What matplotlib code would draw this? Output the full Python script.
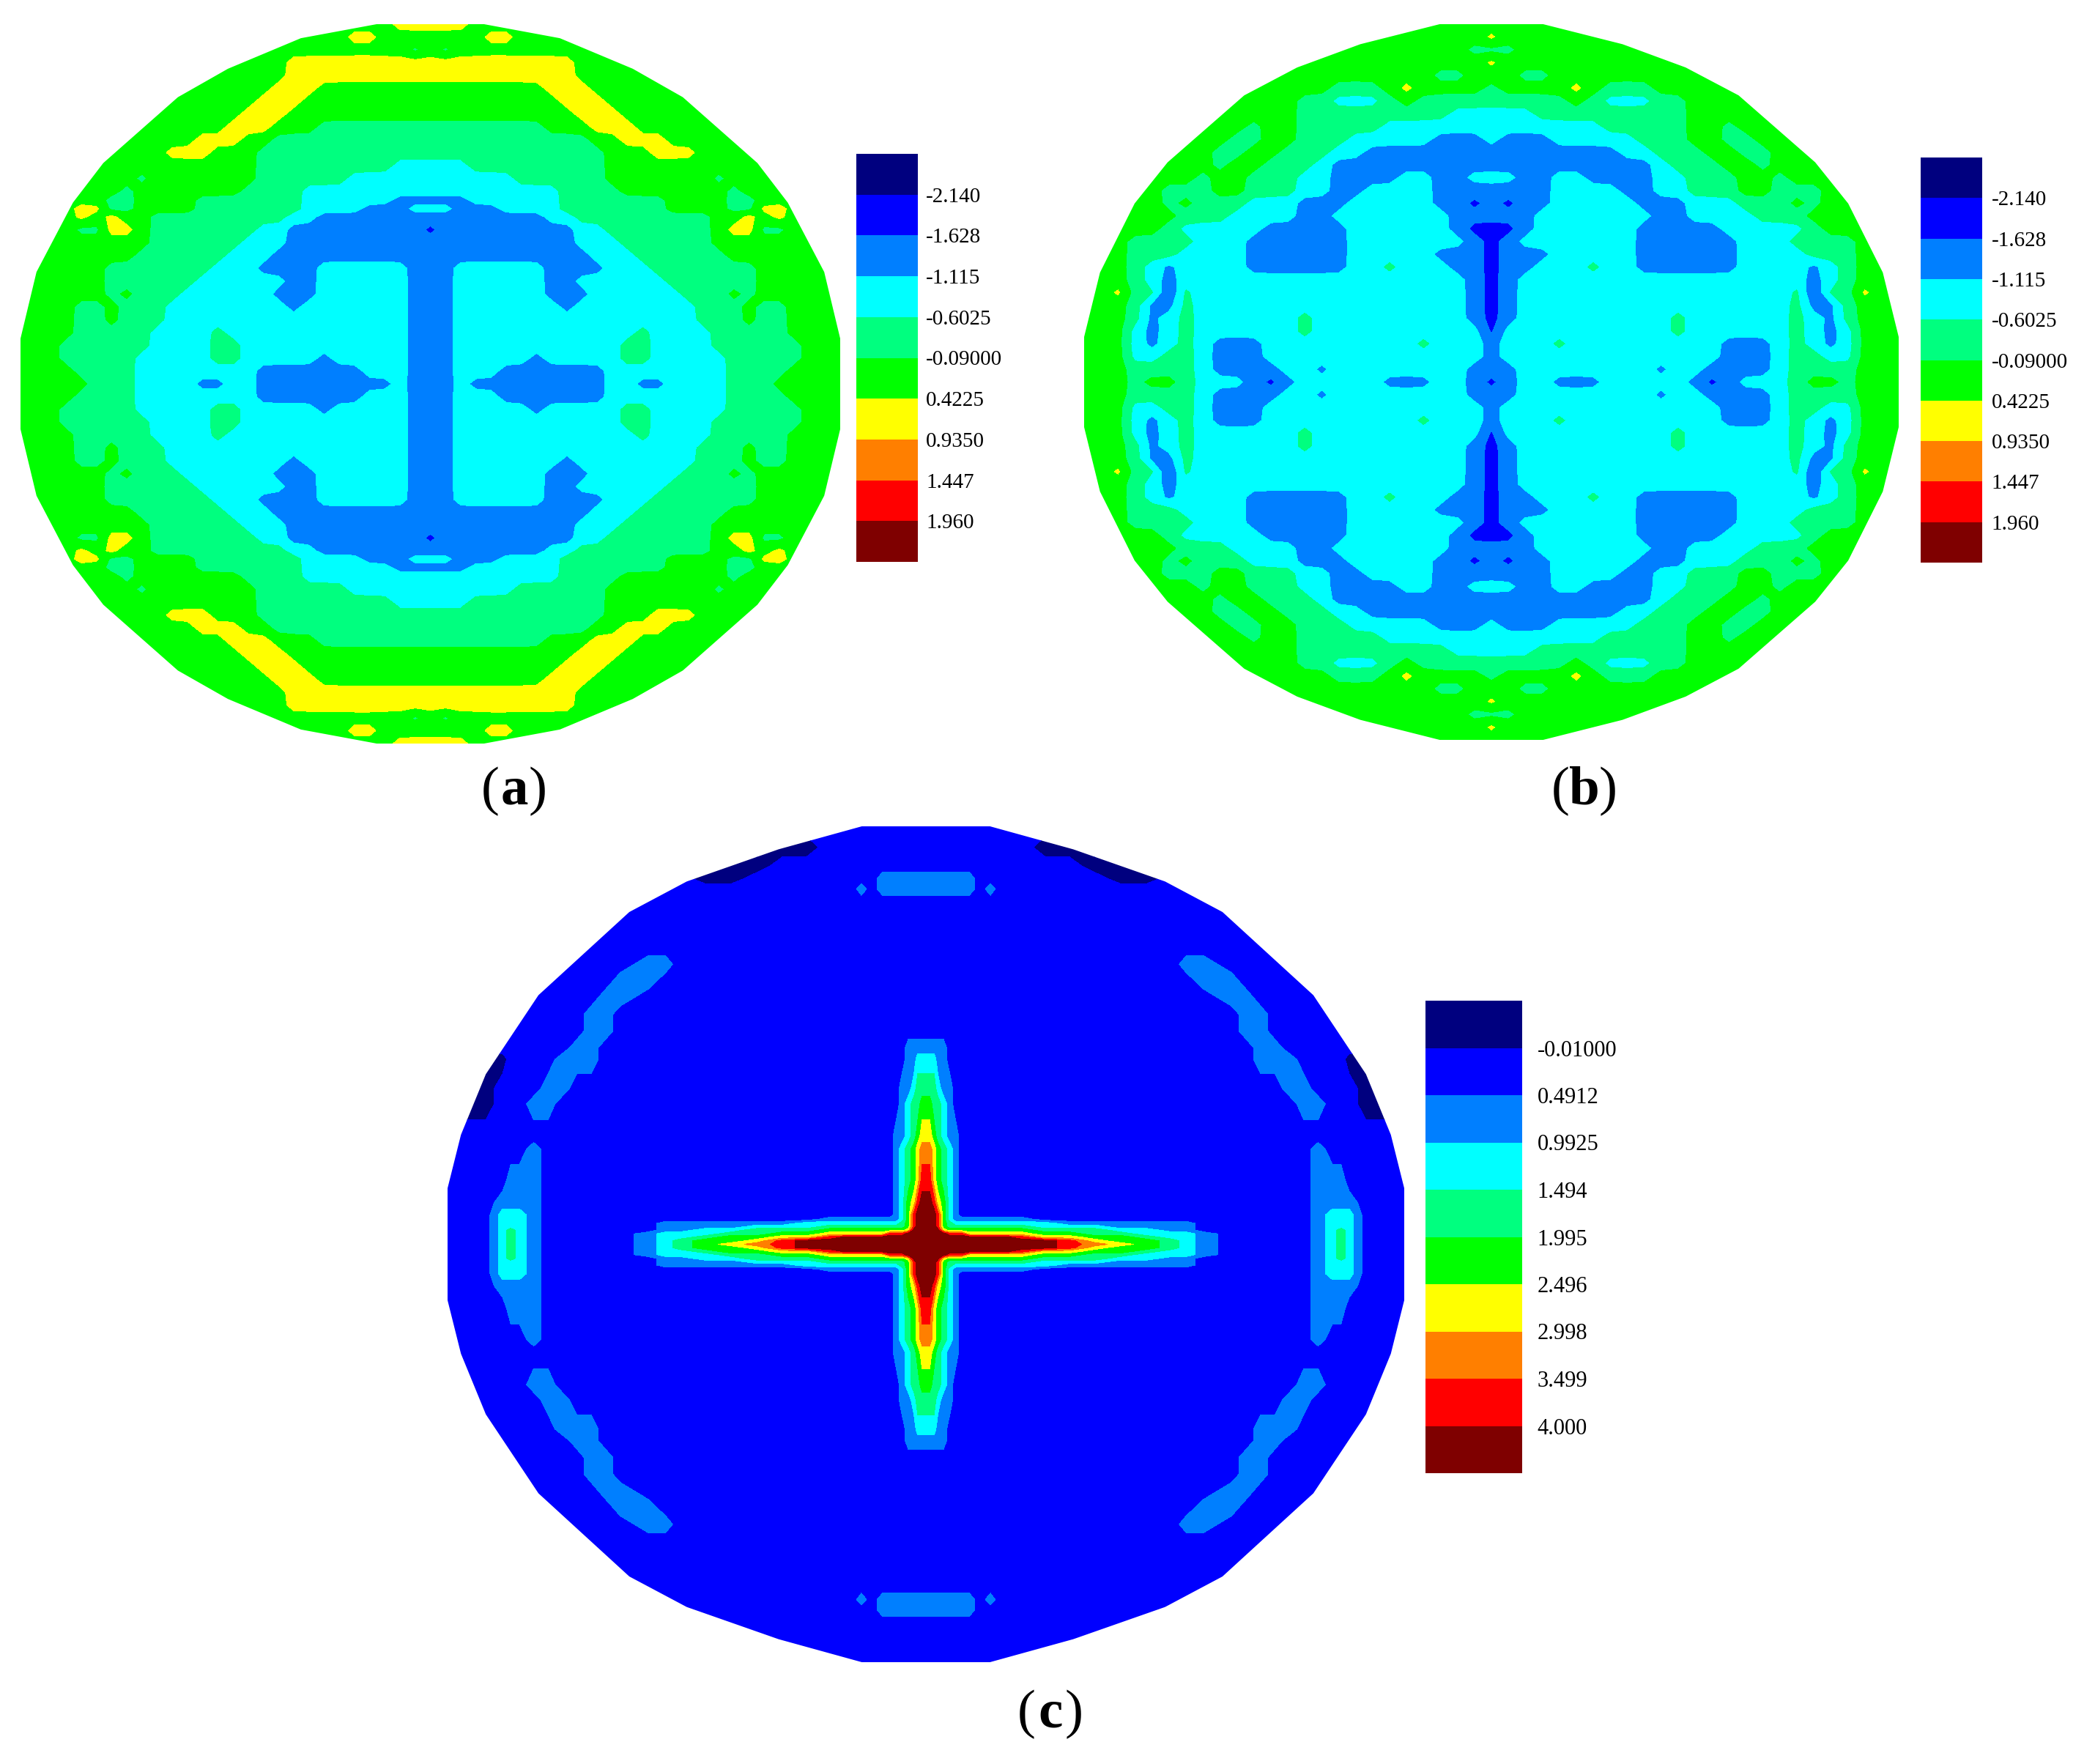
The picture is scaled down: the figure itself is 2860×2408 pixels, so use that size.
import matplotlib
matplotlib.use("Agg")
import matplotlib.pyplot as plt
from matplotlib.colors import ListedColormap
from matplotlib.patches import Polygon
import numpy as np

plt.rcParams["font.family"] = ["Liberation Serif", "DejaVu Serif"]

W, H = 2860, 2408
COLORS = ["#00007F", "#0000FF", "#007FFF", "#00FFFF", "#00FF7F",
          "#00FF00", "#FFFF00", "#FF7F00", "#FF0000", "#7F0000"]

# contour levels, same as the legend labels
LEVELS_AB = [-2.140, -1.628, -1.115, -0.6025, -0.09, 0.4225, 0.9350, 1.447, 1.960]
LABELS_AB = ["-2.140", "-1.628", "-1.115", "-0.6025", "-0.09000", "0.4225", "0.9350", "1.447", "1.960"]
LEVELS_C = [-0.01, 0.4912, 0.9925, 1.494, 1.995, 2.496, 2.998, 3.499, 4.000]
LABELS_C = ["-0.01000", "0.4912", "0.9925", "1.494", "1.995", "2.496", "2.998", "3.499", "4.000"]

# field value read for each colour band (one digit per grid node below)
BAND_VALUES_AB = [-2.4, -1.884, -1.372, -0.859, -0.346, 0.166, 0.679, 1.191, 1.704, 2.2]
BAND_VALUES_C = [-0.26, 0.24, 0.742, 1.243, 1.745, 2.246, 2.747, 3.249, 3.75, 4.25]

# upper right quadrant of each plate, rows go from the centre line to the top
ROWS_A = [
    "2232222222223322333344455555", "2233322222223333333344445555",
    "2233333233333443333344444555", "2233333333333443333444444555",
    "2233333333333343333444445555", "2233333333333333334445445555",
    "2233333332333333334445445555", "2233333322233333344454555555",
    "2233333322333333444444555555", "2233333322223334444444555555",
    "2222222222233344444455555555", "2222222222333444444555555555",
    "1222222222334444444566445555", "2222222233444444444556565555",
    "3322233334444444555544665555", "2223333334444444555544555555",
    "3333333334444555555545555555",
    "3333334444445555555455555555", "3334444444445555555555555555",
    "4444444444445556665555555555", "4444444444455666555555555555",
    "4444444455566655555555555555", "5555555555666555555555555555",
    "5555555556665555555555555555", "5555555566655555555555555555",
    "6666666666555555555555555555", "6666666666555555555555555555",
    "5455555555555555555555555555", "5555665555555555555555555555",
    "6665555555555555555555555555",
]
ROWS_B = [
    "1233222333332123334554555", "2233333333233222234444555",
    "2333333333333322234433555", "2333433333333322234323555",
    "1333333333343333334323555", "1233333333343333334324555",
    "1233333333333333334224555", "1233333333333333334144655",
    "1233333333333333333234555", "1223334332222223333234555",
    "1222333332222223333444555", "1233333332222223334444555",
    "1123333332222233333455555", "2223333333223333444555555",
    "2122333332223334445455555", "2222333322334445544455555",
    "3322332222334445545555555", "2222222222344455455555555",
    "2222222233444554455555555", "3222333334445544555555555",
    "3333333444445545555555555", "3334444444445555555555555",
    "4444454333445555555555555", "4555565444555555555555555",
    "5544555555555555555555555", "6555555555555555555555555",
    "4455555555555555555555555", "6555555555555555555555555",
    "5555555555555555555555555",
]
ROWS_C = [
    "9" * 14 + "87654321" + "111112343111",
    "9" * 14 + "86554321" + "111112343111",
    "9" * 12 + "8665543321" + "111112343111",
    "99999888666665544333" + "21" + "111112343111",
    "9999655555555444332211" + "111112343111",
    "9998544444444333222211" + "111112333111",
    "9998543333333322222211" + "111112333111",
    "9998532222222111111111" + "111112333111",
    "9998532" + "1" * 15 + "111112333111",
    "9986532" + "1" * 15 + "111112222111",
    "8865432" + "1" * 15 + "111112221111",
    "7765432" + "1" * 15 + "111112111111",
    "6654322" + "1" * 15 + "1" * 12,
    "554432" + "1" * 16 + "111122111001",
    "444322" + "1" * 16 + "111221111001",
    "33322" + "1" * 17 + "122211110011",
    "22222" + "1" * 17 + "122111111111",
    "1" * 22 + "221111111111",
    "1" * 22 + "221111111111",
    "1" * 21 + "22" + "1" * 11,
    "1" * 20 + "22" + "1" * 12,
    "1" * 19 + "22" + "1" * 13,
    "1" * 34, "1" * 34, "1" * 34, "1" * 34,
    "222222222" + "12" + "1" * 23,
    "222222222" + "1" * 7 + "00" + "1" * 16,
    "1" * 15 + "00" + "1" * 17,
    "1" * 13 + "00" + "1" * 19,
    "1" * 34,
]

# grid nodes, as a fraction of the half width / half height
X_A = np.linspace(0, 1, 28)
Y_A = np.r_[np.linspace(0, .4643, 14), .487, .511, np.linspace(.5357, 1, 14)]
X_B = np.linspace(0, 1, 25)
Y_B = np.linspace(0, 1, 29)
X_C = [0, .008, .017, .025, .037, .05, .062, .075, .091, .113, .135, .155, .2, .249, .299,
       .353, .407, .461, .515, .544, .581, .639, .67, .70, .73, .76, .79, .82, .85, .868,
       .885, .92, .96, 1.0]
Y_C = [0, .008, .017, .025, .034, .042, .05, .06, .07, .10, .154, .228, .259, .336, .373,
       .443, .47, .51, .55, .59, .63, .67, .71, .75, .79, .82, .85, .875, .905, .95, 1.0]

# plate outline, quadrant only
OUTLINE_A_X = [1, 1, .961, .872, .798, .616, .494, .316, .131, 0]
OUTLINE_A_Y = [0, .126, .311, .504, .614, .797, .876, .961, 1, 1]
OUTLINE_B_X = [1, 1, .961, .876, .795, .607, .477, .322, .127, 0]
OUTLINE_B_Y = [0, .126, .306, .499, .614, .801, .879, .944, 1, 1]
OUTLINE_C_X = [1, 1, .972, .92, .81, .62, .50, .308, .134, 0]
OUTLINE_C_Y = [0, .134, .262, .407, .596, .795, .868, .945, 1, 1]


def add_axes_px(fig, x0, y0, x1, y1):
    return fig.add_axes([x0 / W, 1 - y1 / H, (x1 - x0) / W, (y1 - y0) / H])


def draw_plate(fig, box, rows, xs, ys, band_values, levels, ox, oy, soften=0.0, navy_top_only=False):
    ax = add_axes_px(fig, *box)
    ax.set_xlim(-1, 1)
    ax.set_ylim(-1, 1)
    ax.axis("off")
    xs = np.asarray(xs, dtype=float)
    ys = np.asarray(ys, dtype=float)
    z = np.array([[band_values[int(c)] for c in r] for r in rows])
    # the plate is symmetric, mirror the quadrant both ways
    z = np.hstack([z[:, :0:-1], z])
    lower = z[:0:-1].copy()
    if navy_top_only:
        # the dark patches only sit on the upper edge
        lower[lower == band_values[0]] = band_values[1]
    z = np.vstack([lower, z])
    if soften:
        # takes the stair steps off the diagonal band edges
        p = np.pad(z, 1, mode="edge")
        z = (1 - soften) * z + soften * (p[:-2, 1:-1] + p[2:, 1:-1] + p[1:-1, :-2] + p[1:-1, 2:]) / 4
    gx = np.concatenate([-xs[:0:-1], xs])
    gy = np.concatenate([-ys[:0:-1], ys])
    cs = ax.contourf(gx, gy, z, levels=[-100] + levels + [100], colors=COLORS)
    ox = np.asarray(ox)
    oy = np.asarray(oy)
    px = np.concatenate([ox, -ox[::-1], -ox, ox[::-1]])
    py = np.concatenate([oy, oy[::-1], -oy, -oy[::-1]])
    clip = Polygon(np.column_stack([px, py]), closed=True, transform=ax.transData, fc="none", ec="none")
    ax.add_patch(clip)
    cs.set_clip_path(clip)
    return ax


def draw_legend(fig, box, labels, size, pad):
    ax = add_axes_px(fig, *box)
    ax.pcolormesh([0, 1], np.arange(11), np.arange(10).reshape(-1, 1),
                  cmap=ListedColormap(COLORS), vmin=-0.5, vmax=9.5)
    ax.set_ylim(10, 0)
    ax.set_xticks([])
    ax.yaxis.tick_right()
    ax.set_yticks(np.arange(1, 10))
    ax.set_yticklabels(labels, fontsize=size)
    ax.tick_params(axis="y", length=0, pad=pad)
    for s in ax.spines.values():
        s.set_visible(False)


def panel_label(fig, cx, cy, letter):
    size = 54
    half = 20 / W
    fig.text(cx - half, 1 - cy / H, "(", ha="right", va="center", fontsize=size)
    fig.text(cx, 1 - cy / H, letter, ha="center", va="center", fontsize=size, fontweight="bold")
    fig.text(cx + half, 1 - cy / H, ")", ha="left", va="center", fontsize=size)


fig = plt.figure(figsize=(W / 100, H / 100), dpi=100, facecolor="white")

draw_plate(fig, (28, 33, 1147, 1015), ROWS_A, X_A, Y_A, BAND_VALUES_AB, LEVELS_AB,
           OUTLINE_A_X, OUTLINE_A_Y, soften=0.3)
draw_plate(fig, (1480, 33, 2592, 1010), ROWS_B, X_B, Y_B, BAND_VALUES_AB, LEVELS_AB,
           OUTLINE_B_X, OUTLINE_B_Y, soften=0.3)
draw_plate(fig, (611, 1128, 1917, 2269), ROWS_C, X_C, Y_C, BAND_VALUES_C, LEVELS_C,
           OUTLINE_C_X, OUTLINE_C_Y, navy_top_only=True)

draw_legend(fig, (1169, 210, 1253, 767), LABELS_AB, 21, 8)
draw_legend(fig, (2622, 215, 2706, 768), LABELS_AB, 21, 9)
draw_legend(fig, (1946, 1366, 2078, 2011), LABELS_C, 22, 15)

panel_label(fig, 702 / W, 1080, "a")
panel_label(fig, 2163 / W, 1080, "b")
panel_label(fig, 1434 / W, 2340, "c")

fig.savefig("out.png", dpi=100, facecolor="white")
